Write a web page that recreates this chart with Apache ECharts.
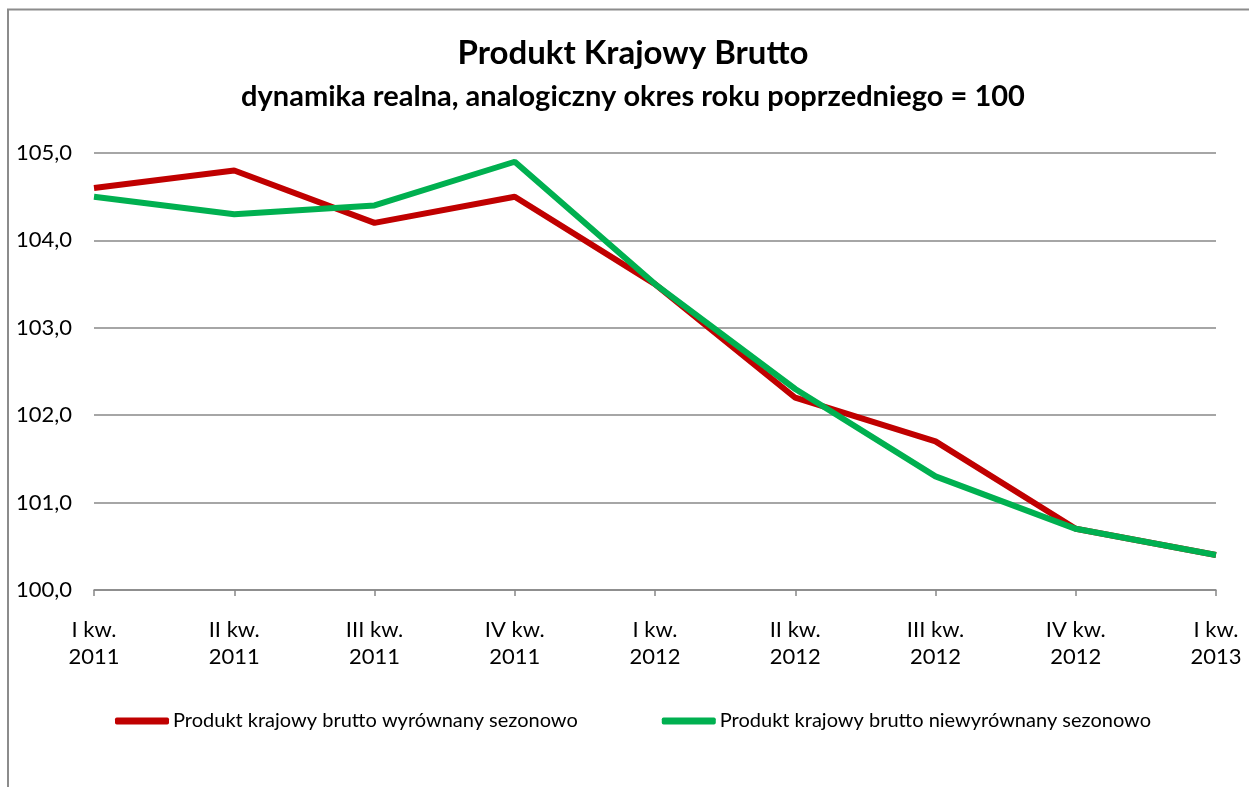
<!DOCTYPE html>
<html>
<head>
<meta charset="utf-8">
<script src="https://cdn.jsdelivr.net/npm/echarts@6/dist/echarts.min.js"></script>
<style>
  html, body { margin: 0; padding: 0; background: #fff; }
  #chart-container { width: 1249px; height: 787px; }
</style>
</head>
<body>
<div id="chart-container"></div>
<script>
var categories = ['I kw.\n2011', 'II kw.\n2011', 'III kw.\n2011', 'IV kw.\n2011', 'I kw.\n2012', 'II kw.\n2012', 'III kw.\n2012', 'IV kw.\n2012', 'I kw.\n2013'];
var wyrownany = [104.6, 104.8, 104.2, 104.5, 103.5, 102.2, 101.7, 100.7, 100.4];
var niewyrownany = [104.5, 104.3, 104.4, 104.9, 103.5, 102.3, 101.3, 100.7, 100.4];
var seriesNames = ['Produkt krajowy brutto wyrównany sezonowo', 'Produkt krajowy brutto niewyrównany sezonowo'];

var dom = document.getElementById('chart-container');
var myChart = echarts.init(dom, null, { renderer: 'canvas' });
var font = 'Lato, "Open Sans", sans-serif';

var option = {
  animation: false,
  textStyle: { fontFamily: font },
  title: {
    text: 'Produkt Krajowy Brutto',
    subtext: 'dynamika realna, analogiczny okres roku poprzedniego = 100',
    left: 628,
    textAlign: 'center',
    top: 32,
    itemGap: 12,
    textStyle: { fontSize: 33, fontWeight: 'bold', color: '#000', fontFamily: font },
    subtextStyle: { fontSize: 29, fontWeight: 'bold', color: '#000', fontFamily: font }
  },
  graphic: [
    {
      type: 'polyline',
      shape: { points: [[8, 787], [8, 9.5], [1249, 9.5]] },
      style: { stroke: '#8c8c8c', lineWidth: 2, fill: null },
      silent: true
    }
  ],
  legend: {
    data: seriesNames,
    left: 115,
    top: 711,
    padding: 0,
    itemWidth: 54,
    itemHeight: 7,
    itemGap: 84,
    icon: 'roundRect',
    textStyle: { fontSize: 20, color: '#000', fontFamily: font, padding: [0, 0, 0, -1] }
  },
  grid: { left: 94, right: 33, top: 153, bottom: 197 },
  xAxis: {
    type: 'category',
    boundaryGap: false,
    data: categories,
    axisLine: { lineStyle: { color: '#888', width: 1.5 } },
    axisTick: { show: true, length: 6, lineStyle: { color: '#888', width: 1.5 } },
    axisLabel: { fontSize: 22, color: '#000', lineHeight: 27, margin: 26, fontFamily: font }
  },
  yAxis: {
    type: 'value',
    min: 100,
    max: 105,
    interval: 1,
    axisLine: { show: false },
    axisTick: { show: false },
    splitLine: { lineStyle: { color: '#888', width: 1.5 } },
    axisLabel: {
      fontSize: 22,
      color: '#000',
      margin: 22,
      fontFamily: font,
      formatter: function (v) { return v.toFixed(1).replace('.', ','); }
    }
  },
  series: [
    {
      name: seriesNames[0],
      type: 'line',
      data: wyrownany,
      symbol: 'none',
      lineStyle: { color: '#C00000', width: 6 },
      itemStyle: { color: '#C00000' }
    },
    {
      name: seriesNames[1],
      type: 'line',
      data: niewyrownany,
      symbol: 'none',
      lineStyle: { color: '#00B050', width: 6 },
      itemStyle: { color: '#00B050' }
    }
  ]
};

myChart.setOption(option);
window.addEventListener('resize', myChart.resize);
</script>
</body>
</html>
